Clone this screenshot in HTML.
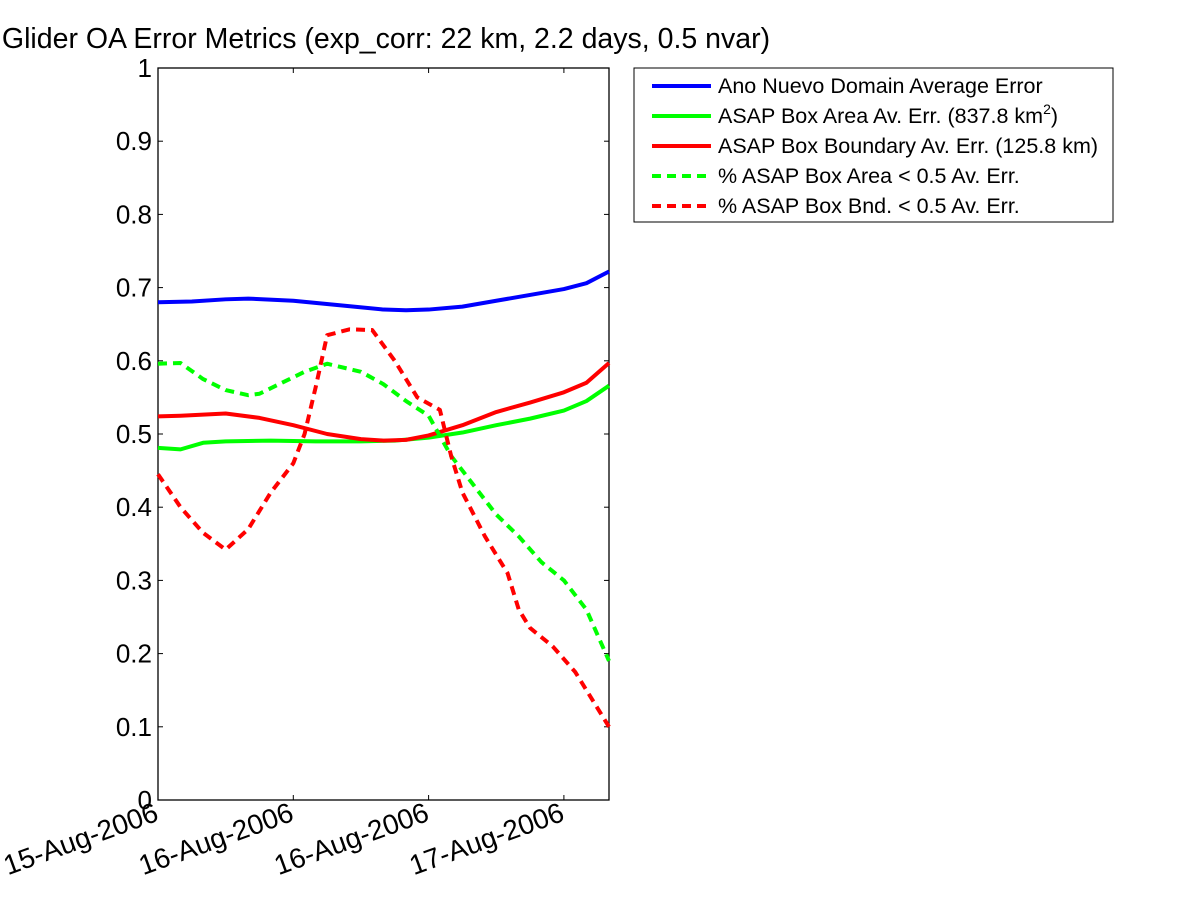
<!DOCTYPE html>
<html><head><meta charset="utf-8"><style>
body{margin:0;background:#fff;}
svg text{font-family:"Liberation Sans",Arial,sans-serif;fill:#000;}
</style></head><body>
<svg id="chart" width="1200" height="900">
<rect width="1200" height="900" fill="#fff"/>
<text x="386" y="48" font-size="28.5" text-anchor="middle">Glider OA Error Metrics (exp_corr: 22 km, 2.2 days, 0.5 nvar)</text>
<g id="axes"></g>
<g id="series"></g>
<g id="legend">
<rect x="634" y="68" width="479" height="154" fill="#fff" stroke="#000" stroke-width="1"/>
</g>
</svg>
<script>
const hoursBlue=[0,3,6,8,12,16,20,22,24,27,30,33,36,38,40];
const valBlue=[0.68,0.681,0.684,0.685,0.682,0.676,0.67,0.669,0.67,0.674,0.682,0.69,0.698,0.706,0.722];
const hoursGreen=[0,2,4,6,10,14,18,21,24,27,30,33,36,38,40];
const valGreen=[0.481,0.479,0.488,0.49,0.491,0.49,0.49,0.491,0.495,0.502,0.512,0.521,0.532,0.545,0.566];
const hoursRed=[0,2,6,9,12,15,18,20,22,24,27,30,33,36,38,40];
const valRed=[0.524,0.525,0.528,0.522,0.512,0.5,0.493,0.491,0.492,0.498,0.512,0.53,0.543,0.557,0.57,0.597];
const hoursGreenPct=[0,2,4,6,8,9,11,13,15,18,20,22,24,26,28,30,32,34,36,38,40];
const valGreenPct=[0.596,0.597,0.575,0.56,0.553,0.555,0.57,0.585,0.596,0.585,0.568,0.545,0.525,0.47,0.43,0.39,0.36,0.325,0.3,0.26,0.19];
const hoursRedPct=[0,2,4,6,8,10,12,13,14,15,17,19,21,23,25,26,27,29,31,32,33,35,37,40];
const valRedPct=[0.445,0.4,0.365,0.342,0.37,0.42,0.46,0.5,0.565,0.635,0.643,0.642,0.6,0.55,0.533,0.47,0.42,0.36,0.31,0.26,0.235,0.21,0.175,0.1];
const yTicks=[0,0.1,0.2,0.3,0.4,0.5,0.6,0.7,0.8,0.9,1];
const yTickLabels=["0","0.1","0.2","0.3","0.4","0.5","0.6","0.7","0.8","0.9","1"];
const xTicks=[0,12,24,36];
const xTickLabels=["15-Aug-2006","16-Aug-2006","16-Aug-2006","17-Aug-2006"];
const legendLabels=["Ano Nuevo Domain Average Error","ASAP Box Area Av. Err. (837.8 km²)","ASAP Box Boundary Av. Err. (125.8 km)","% ASAP Box Area < 0.5 Av. Err.","% ASAP Box Bnd. < 0.5 Av. Err."];

const L=158,R=609,T=68,B=800,HMAX=40;
const xS=h=>L+(R-L)*h/HMAX;
const yS=v=>B-(B-T)*v;
const NS="http://www.w3.org/2000/svg";
function mk(tag,attrs,parent){const e=document.createElementNS(NS,tag);for(const k in attrs)e.setAttribute(k,attrs[k]);parent.appendChild(e);return e;}
const axes=document.getElementById('axes');
const box=mk('rect',{x:L,y:T,width:R-L,height:B-T,fill:'none',stroke:'#000','stroke-width':1.3},axes);


yTicks.forEach((v,i)=>{
  const y=yS(v);
  mk('line',{x1:L,x2:L+5,y1:y,y2:y,stroke:'#000'},axes);
  mk('line',{x1:R,x2:R-5,y1:y,y2:y,stroke:'#000'},axes);
  const t=mk('text',{x:L-6,y:y+9,'font-size':26,'text-anchor':'end'},axes);
  t.textContent=yTickLabels[i];
  
  
});
xTicks.forEach((h,i)=>{
  const x=xS(h);
  mk('line',{x1:x,x2:x,y1:B,y2:B-5,stroke:'#000'},axes);
  mk('line',{x1:x,x2:x,y1:T,y2:T+5,stroke:'#000'},axes);
  const t=mk('text',{x:x+2,y:B+20,'font-size':28,'text-anchor':'end',transform:`rotate(-20 ${x+2} ${B+20})`},axes);
  t.textContent=xTickLabels[i];
  
  
});
const defs=[
 [hoursBlue,valBlue,'#0000ff',null,'line-domain-average'],
 [hoursGreen,valGreen,'#00ff00',null,'line-box-area'],
 [hoursRed,valRed,'#ff0000',null,'line-box-boundary'],
 [hoursGreenPct,valGreenPct,'#00ff00','9,6','line-pct-box-area'],
 [hoursRedPct,valRedPct,'#ff0000','9,6','line-pct-box-boundary']];
const sg=document.getElementById('series');
defs.forEach(([hs,vs,c,d,n])=>{
  const p=mk('polyline',{points:hs.map((h,i)=>xS(h)+','+yS(vs[i])).join(' '),fill:'none',stroke:c,'stroke-width':4,'stroke-linejoin':'round'},sg);
  if(d)p.setAttribute('stroke-dasharray',d);
  
  
});
const lg=document.getElementById('legend');
defs.forEach(([hs,vs,c,d,n],i)=>{
  const y=86+i*30;
  const l=mk('line',{x1:652,x2:711,y1:y,y2:y,stroke:c,'stroke-width':4},lg);
  if(d)l.setAttribute('stroke-dasharray','9,6');
  const t=mk('text',{x:718,y:y+7,'font-size':21.5},lg);
  if(i===1){t.textContent='ASAP Box Area Av. Err. (837.8 km';const s=mk('tspan',{dy:-9,'font-size':14},t);s.textContent='2';const s2=mk('tspan',{dy:9},t);s2.textContent=')';}
  else t.textContent=legendLabels[i];
  
  
});
</script>
</body></html>
